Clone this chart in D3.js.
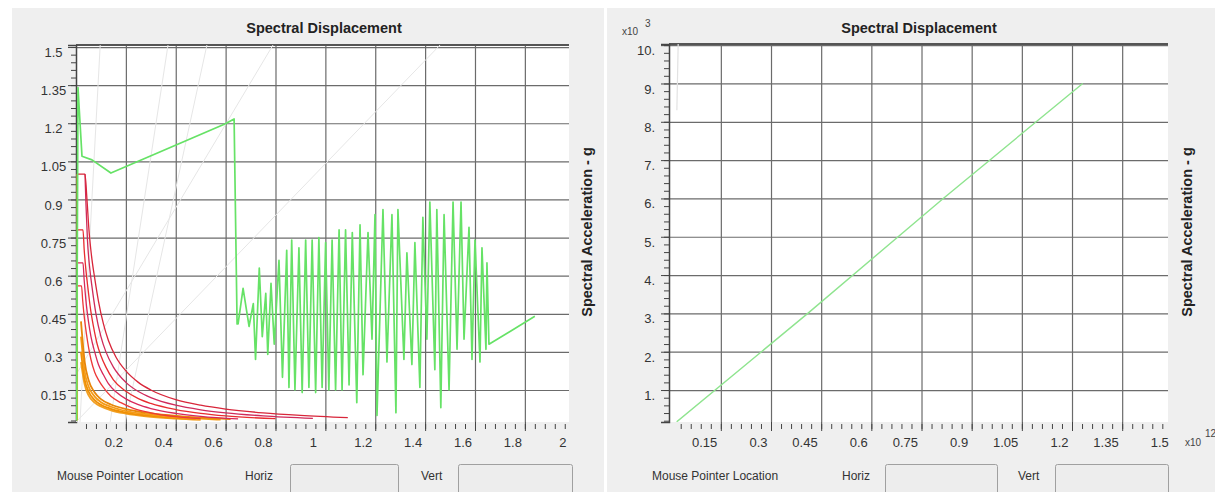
<!DOCTYPE html>
<html><head><meta charset="utf-8">
<script src="https://cdn.jsdelivr.net/npm/d3@7"></script>
<style>
body{margin:0;background:#fff;}
svg{display:block;font-family:"Liberation Sans",Arial,sans-serif;}
</style>
</head><body>
<svg id="c" width="1215" height="492"></svg>
<script>
// ---------- DATA ----------
const chartTitle = "Spectral Displacement";
const yAxisTitle = "Spectral Acceleration - g";

const leftXTicks  = [0.2,0.4,0.6,0.8,1,1.2,1.4,1.6,1.8,2];
const leftXLabels = ["0.2","0.4","0.6","0.8","1","1.2","1.4","1.6","1.8","2"];
const leftYTicks  = [0.15,0.3,0.45,0.6,0.75,0.9,1.05,1.2,1.35,1.5];
const leftYLabels = ["0.15","0.3","0.45","0.6","0.75","0.9","1.05","1.2","1.35","1.5"];

const rightXTicks  = [0.15,0.3,0.45,0.6,0.75,0.9,1.05,1.2,1.35,1.5];
const rightXLabels = ["0.15","0.3","0.45","0.6","0.75","0.9","1.05","1.2","1.35","1.5"];
const rightYTicks  = [1,2,3,4,5,6,7,8,9,10];
const rightYLabels = ["1.","2.","3.","4.","5.","6.","7.","8.","9.","10."];

// green demand spectrum (left)
const greenDemand = [
[0.002,0.03],[0.008,1.34],[0.024,1.07],[0.064,1.056],[0.140,1.004],[0.597,1.197],[0.634,1.217],[0.646,0.41],
[0.650,0.41],[0.670,0.55],[0.694,0.40],[0.711,0.49],[0.720,0.27],[0.735,0.63],[0.747,0.36],[0.761,0.53],
[0.769,0.29],[0.782,0.57],[0.795,0.33],[0.814,0.66],[0.828,0.20],[0.845,0.70],[0.854,0.16],[0.865,0.74],
[0.878,0.15],[0.894,0.71],[0.907,0.14],[0.921,0.74],[0.934,0.16],[0.947,0.74],[0.961,0.14],[0.974,0.75],
[0.987,0.16],[1.001,0.73],[1.014,0.15],[1.027,0.74],[1.041,0.15],[1.055,0.78],[1.067,0.15],[1.081,0.78],
[1.095,0.17],[1.108,0.77],[1.126,0.10],[1.139,0.80],[1.151,0.21],[1.171,0.77],[1.187,0.35],[1.199,0.84],
[1.207,0.05],[1.231,0.86],[1.247,0.26],[1.267,0.84],[1.283,0.06],[1.291,0.86],[1.315,0.27],[1.327,0.69],
[1.347,0.25],[1.359,0.73],[1.379,0.16],[1.391,0.83],[1.407,0.35],[1.419,0.89],[1.439,0.23],[1.447,0.86],
[1.463,0.08],[1.476,0.84],[1.496,0.15],[1.512,0.89],[1.528,0.31],[1.544,0.89],[1.556,0.35],[1.576,0.79],
[1.588,0.27],[1.600,0.74],[1.620,0.26],[1.628,0.71],[1.644,0.31],[1.648,0.65],[1.656,0.33],[1.840,0.44]
];

// red curves (left)
const red1 = [[0.003,1.0],[0.036,1.0],[0.044,0.90],[0.052,0.78],[0.062,0.68],[0.075,0.59],[0.09,0.50],[0.11,0.41],[0.13,0.345],[0.16,0.28],[0.2,0.225],[0.25,0.18],[0.3,0.15],[0.4,0.112],[0.5,0.09],[0.6,0.075],[0.75,0.06],[0.9,0.05],[1.09,0.041]];
const red2 = [[0.036,1.0],[0.040,0.88],[0.046,0.74],[0.055,0.63],[0.065,0.55],[0.08,0.45],[0.10,0.36],[0.12,0.30],[0.15,0.24],[0.2,0.18],[0.25,0.144],[0.3,0.12],[0.4,0.09],[0.5,0.072],[0.6,0.06],[0.75,0.048],[0.95,0.038]];
const red3 = [[0.003,0.78],[0.028,0.78],[0.033,0.70],[0.040,0.62],[0.048,0.55],[0.058,0.47],[0.07,0.40],[0.085,0.33],[0.10,0.285],[0.12,0.24],[0.15,0.19],[0.2,0.145],[0.25,0.116],[0.3,0.097],[0.4,0.073],[0.5,0.058],[0.6,0.048],[0.8,0.037]];
const red4 = [[0.003,0.65],[0.028,0.65],[0.033,0.58],[0.040,0.50],[0.05,0.42],[0.06,0.36],[0.075,0.30],[0.09,0.25],[0.11,0.21],[0.13,0.175],[0.16,0.143],[0.2,0.115],[0.25,0.092],[0.3,0.077],[0.4,0.058],[0.5,0.046],[0.65,0.036]];
const red5 = [[0.003,0.56],[0.022,0.56],[0.027,0.50],[0.034,0.43],[0.042,0.37],[0.05,0.32],[0.06,0.27],[0.075,0.22],[0.09,0.19],[0.11,0.16],[0.14,0.125],[0.18,0.10],[0.23,0.078],[0.3,0.06],[0.4,0.045],[0.5,0.037]];

// orange curves (left)
const orange1 = [[0.02,0.42],[0.035,0.26],[0.05,0.19],[0.075,0.14],[0.1,0.114],[0.14,0.093],[0.2,0.075],[0.28,0.061],[0.38,0.05],[0.5,0.041],[0.62,0.035]];
const orange2 = [[0.02,0.36],[0.035,0.22],[0.05,0.165],[0.075,0.124],[0.1,0.102],[0.14,0.084],[0.2,0.067],[0.28,0.055],[0.38,0.045],[0.5,0.037],[0.58,0.033]];
const orange3 = [[0.02,0.3],[0.035,0.19],[0.05,0.145],[0.075,0.11],[0.1,0.092],[0.14,0.076],[0.2,0.061],[0.28,0.05],[0.38,0.041],[0.48,0.035]];
const orange4 = [[0.02,0.26],[0.035,0.17],[0.05,0.13],[0.075,0.1],[0.1,0.085],[0.14,0.07],[0.2,0.057],[0.28,0.046],[0.4,0.037],[0.5,0.032]];
const olive = [[0.005,1.0],[0.005,0.03]];

// faint reference lines (left)
const faintLeft = [
 [[0.016,0.024],[0.097,1.508]],
 [[0.137,0.024],[0.369,1.508]],
 [[0.197,0.024],[0.525,1.508]],
 [[0.0,0.21],[0.79,1.508]],
 [[0.0,0.024],[1.46,1.508]]
];

// right panel
const greenRight = [[0.018,0.17],[0.41,3.0],[0.815,6.0],[1.232,9.0]];
const faintRight = [[[0.0225,10.05],[0.0185,8.3]]];

// ---------- DRAW ----------
const svg = d3.select("#c");
const defs = svg.append("defs");

function panelBg(x,w){
  svg.append("rect").attr("x",x).attr("y",8).attr("width",w).attr("height",484).attr("fill","#efefef");
}
panelBg(12,592);
panelBg(607,608);

function drawPanel(o){
  const {x,y,x0,x1,y0,y1,id} = o;
  svg.append("rect").attr("x",x0).attr("y",y0).attr("width",x1-x0).attr("height",y1-y0).attr("fill","#fff");
  defs.append("clipPath").attr("id",id).append("rect")
     .attr("x",x0).attr("y",y0).attr("width",x1-x0).attr("height",y1-y0);
  const dx = x.domain(), dy = y.domain();
  const inX = o.xTicks.filter(v=>v>=dx[0]&&v<=dx[1]);
  const inY = o.yTicks.filter(v=>v>=dy[0]&&v<=dy[1]);
  const gx = svg.append("g").attr("transform",`translate(0,${y1})`)
    .call(d3.axisBottom(x).tickValues(inX).tickSize(-(y1-y0)).tickFormat(""));
  gx.select(".domain").remove();
  gx.selectAll("line").attr("stroke","#6b6b6b").attr("stroke-width",1.2);
  const gy = svg.append("g").attr("transform",`translate(${x0},0)`)
    .call(d3.axisLeft(y).tickValues(inY).tickSize(-(x1-x0)).tickFormat(""));
  gy.select(".domain").remove();
  gy.selectAll("line").attr("stroke","#6b6b6b").attr("stroke-width",1.2);
  svg.append("line").attr("x1",x0).attr("x2",x1).attr("y1",y0).attr("y2",y0)
     .attr("stroke","#555").attr("stroke-width",2);
  const mx = svg.append("g").attr("transform",`translate(0,${y1+2})`)
    .call(d3.axisBottom(x).tickValues(o.xMinor).tickSize(5).tickFormat(""));
  mx.select(".domain").remove();
  mx.selectAll("line").attr("stroke","#444");
  const Mx = svg.append("g").attr("transform",`translate(0,${y1})`)
    .call(d3.axisBottom(x).tickValues(inX).tickSize(9).tickFormat(""));
  Mx.select(".domain").remove();
  Mx.selectAll("line").attr("stroke","#444");
  const my = svg.append("g").attr("transform",`translate(${x0},0)`)
    .call(d3.axisLeft(y).tickValues(o.yMinor).tickSize(5).tickFormat(""));
  my.select(".domain").remove();
  my.selectAll("line").attr("stroke","#444");
  const My = svg.append("g").attr("transform",`translate(${x0},0)`)
    .call(d3.axisLeft(y).tickValues(inY).tickSize(8).tickFormat(""));
  My.select(".domain").attr("stroke","#444").attr("stroke-width",1.5);
  My.selectAll("line").attr("stroke","#444");
  const lx = svg.append("g").attr("transform",`translate(0,${y1})`)
    .call(d3.axisBottom(x).tickValues(o.xTicks).tickSize(0).tickFormat((d,i)=>o.xLabels[i]));
  lx.select(".domain").remove();
  lx.selectAll("text").attr("y",25).attr("dy",null).attr("x",o.xLabDx)
    .attr("text-anchor",o.xAnchor).attr("font-size",13).attr("fill","#333")
    .attr("font-family","Liberation Sans, Arial, sans-serif");
  const ly = svg.append("g").attr("transform",`translate(${x0},0)`)
    .call(d3.axisLeft(y).tickValues(o.yTicks).tickSize(0).tickFormat((d,i)=>o.yLabels[i]));
  ly.select(".domain").remove();
  ly.selectAll("text").attr("x",o.yLabDx).attr("y",5).attr("dy","0.35em")
    .attr("text-anchor",o.yAnchor).attr("font-size",13).attr("fill","#333")
    .attr("font-family","Liberation Sans, Arial, sans-serif");
  svg.append("text").attr("x",o.titleX).attr("y",33).attr("text-anchor","middle")
    .attr("font-size",14.5).attr("font-weight","bold").attr("fill","#222").text(chartTitle);
  svg.append("text").attr("transform",`translate(${o.axTitleX},232) rotate(-90)`)
    .attr("text-anchor","middle").attr("dominant-baseline","central")
    .attr("font-size",14.5).attr("font-weight","bold").attr("fill","#222").text(yAxisTitle);
  const bx = o.bottomX;
  svg.append("text").attr("x",bx[0]).attr("y",480).attr("font-size",12).attr("fill","#333").text("Mouse Pointer Location");
  svg.append("text").attr("x",bx[1]).attr("y",480).attr("font-size",12).attr("fill","#333").text("Horiz");
  svg.append("text").attr("x",bx[4]).attr("y",480).attr("font-size",12).attr("fill","#333").text("Vert");
  [[bx[2],bx[3]],[bx[5],bx[6]]].forEach(b=>{
    svg.append("rect").attr("x",b[0]+0.5).attr("y",464.5).attr("width",b[1]-b[0]).attr("height",40)
      .attr("rx",2).attr("fill","#ededed").attr("stroke","#a0a0a0");
  });
  return svg.append("g").attr("clip-path",`url(#${id})`);
}

// left
const xL = d3.scaleLinear().domain([0,1.977]).range([76,569]);
const yL = d3.scaleLinear().domain([0.024,1.508]).range([422,45]);
const gL = drawPanel({x:xL,y:yL,x0:76,x1:569,y0:45,y1:422,id:"clipL",
  xTicks:leftXTicks,xLabels:leftXLabels,yTicks:leftYTicks,yLabels:leftYLabels,
  xMinor:d3.range(0.04,1.97,0.04),yMinor:d3.range(0.03,1.505,0.03),
  xLabDx:-12.5,xAnchor:"middle",yLabDx:-22.5,yAnchor:"middle",
  titleX:324,axTitleX:587,bottomX:[57,245,290,398,421,458,572]});

const lineL = d3.line().x(d=>xL(d[0])).y(d=>yL(d[1]));
const smoothL = d3.line().x(d=>xL(d[0])).y(d=>yL(d[1])).curve(d3.curveMonotoneX);

faintLeft.forEach(s=>gL.append("path").attr("d",lineL(s)).attr("fill","none").attr("stroke","#e6e6e6").attr("stroke-width",1));
gL.append("path").attr("d",lineL(olive)).attr("fill","none").attr("stroke","#d4b020").attr("stroke-width",1.6);
[[orange4,"#f2a023"],[orange3,"#ef8f05"],[orange2,"#f59b16"],[orange1,"#e8870a"]].forEach(([d,c])=>
  gL.append("path").attr("d",smoothL(d)).attr("fill","none").attr("stroke",c).attr("stroke-width",1.8));
[[red5,"#ee3838"],[red4,"#d8285a"],[red3,"#e82c30"],[red2,"#cf2a5a"],[red1,"#d8263a"]].forEach(([d,c])=>
  gL.append("path").attr("d",smoothL(d)).attr("fill","none").attr("stroke",c).attr("stroke-width",1.3));
gL.append("path").attr("d",lineL(greenDemand)).attr("fill","none").attr("stroke","#66e266").attr("stroke-width",1.7).attr("stroke-linejoin","round");

// right
const xR = d3.scaleLinear().domain([-0.005,1.487]).range([669,1168]);
const yR = d3.scaleLinear().domain([0.166,10.03]).range([422,44]);
const gR = drawPanel({x:xR,y:yR,x0:669,x1:1168,y0:44,y1:422,id:"clipR",
  xTicks:rightXTicks,xLabels:rightXLabels,yTicks:rightYTicks,yLabels:rightYLabels,
  xMinor:d3.range(0.03,1.486,0.03),yMinor:d3.range(0.2,10.02,0.2),
  xLabDx:-4,xAnchor:"end",yLabDx:-14,yAnchor:"end",
  titleX:919,axTitleX:1187,bottomX:[652,842,885,997,1018,1055,1168]});
const lineR = d3.line().x(d=>xR(d[0])).y(d=>yR(d[1]));
faintRight.forEach(s=>gR.append("path").attr("d",lineR(s)).attr("fill","none").attr("stroke","#e2e2e2").attr("stroke-width",1.2));
gR.append("path").attr("d",lineR(greenRight)).attr("fill","none").attr("stroke","#8fe48f").attr("stroke-width",1.4);

// exponent labels
svg.append("text").attr("x",622).attr("y",35).attr("font-size",10).attr("fill","#444").text("x10");
svg.append("text").attr("x",645).attr("y",27).attr("font-size",10).attr("fill","#444").text("3");
svg.append("text").attr("x",1185).attr("y",446).attr("font-size",10).attr("fill","#444").text("x10");
svg.append("text").attr("x",1205).attr("y",437).attr("font-size",10).attr("fill","#444").text("12");
</script>
</body></html>
